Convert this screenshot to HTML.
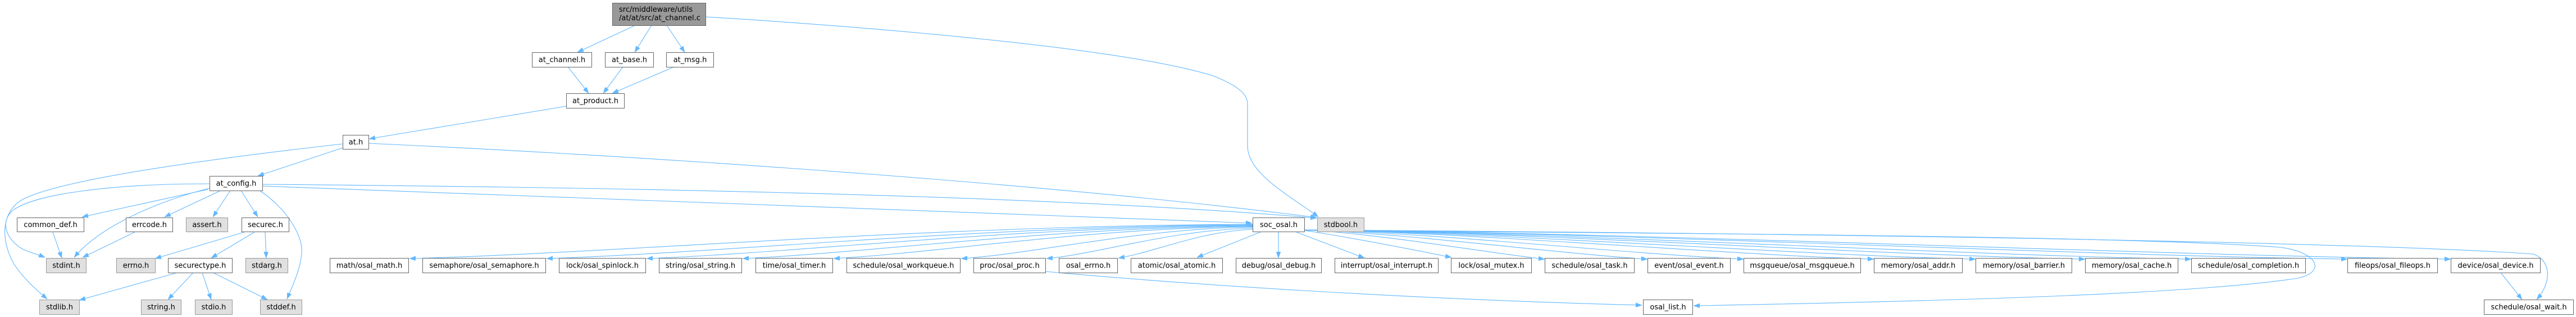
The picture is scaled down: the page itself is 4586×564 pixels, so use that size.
<!DOCTYPE html>
<html>
<head>
<meta charset="utf-8">
<style>
html,body{margin:0;padding:0;background:#fff;}
svg{display:block;}
text{font-family:"DejaVu Sans","Liberation Sans",sans-serif;font-size:13px;fill:#000;}
.n{fill:#fff;stroke:#666;stroke-width:1;}
.g{fill:#e0e0e0;stroke:#999;stroke-width:1;}
.e{fill:none;stroke:#63b8ff;stroke-width:1.1;marker-end:url(#a);}
</style>
</head>
<body>
<svg width="4586" height="564" viewBox="0 0 4586 564" xmlns="http://www.w3.org/2000/svg">
<defs>
<marker id="a" viewBox="0 0 11 8" refX="11" refY="4" markerWidth="11" markerHeight="8" markerUnits="userSpaceOnUse" orient="auto">
<path d="M0,0 L11,4 L0,8 z" fill="#63b8ff" stroke="#63b8ff" stroke-width="0.5"/>
</marker>
</defs>

<!-- edges -->
<g>
<path class="e" d="M1131,45 L1028,93"/>
<path class="e" d="M1160,45 L1130,93"/>
<path class="e" d="M1187,45 L1219,93"/>
<path class="e" d="M1256,30 C1550,48 2000,85 2160,135 C2210,155 2221,170 2221,185 L2221,260 C2221,310 2300,350 2347,386"/>
<path class="e" d="M1011,119 L1048,166"/>
<path class="e" d="M1109,119 L1074,166"/>
<path class="e" d="M1200,119 L1090,166"/>
<path class="e" d="M1008,189 L657,247"/>
<path class="e" d="M610,263 L459,313"/>
<path class="e" d="M610,256 C380,282 110,318 40,355 C0,378 2,430 25,470 C45,500 70,520 84,532"/>
<path class="e" d="M656,255 C1200,280 1900,330 2344,387"/>
<path class="e" d="M467,328 C1200,334 1900,350 2344,388"/>
<path class="e" d="M467,331 C1000,350 1800,382 2229,397"/>
<path class="e" d="M370,337 L146,386"/>
<path class="e" d="M393,339 L293,386"/>
<path class="e" d="M410,339 L379,386"/>
<path class="e" d="M429,339 L459,386"/>
<path class="e" d="M462,339 C510,370 540,420 537,450 C535,480 520,510 511,532"/>
<path class="e" d="M373,335 C290,355 180,400 132,458"/>
<path class="e" d="M373,327 C200,327 60,345 22,375 C0,395 10,425 40,443 C55,450 68,453 80,458"/>
<path class="e" d="M94,413 L110,459"/>
<path class="e" d="M240,413 L147,458"/>
<path class="e" d="M435,413 L276,460"/>
<path class="e" d="M453,413 L376,459"/>
<path class="e" d="M472,413 L474,459"/>
<path class="e" d="M316,485 L141,534"/>
<path class="e" d="M344,485 L299,533"/>
<path class="e" d="M360,485 L376,533"/>
<path class="e" d="M379,485 L476,533"/>

<path class="e" d="M2230,399 C1630,402 1104,450 729,460"/>
<path class="e" d="M2230,400 C1727,403 1287,450 973,460"/>
<path class="e" d="M2230,401 C1798,404 1421,450 1151,460"/>
<path class="e" d="M2230,402 C1867,405 1549,450 1322,460"/>
<path class="e" d="M2230,403 C1932,406 1670,450 1484,460"/>
<path class="e" d="M2230,404 C2022,407 1841,452 1711,460"/>
<path class="e" d="M2230,406 C2083,409 1955,452 1863,460"/>
<path class="e" d="M2230,408 C2134,412 2051,450 1991,459"/>
<path class="e" d="M2246,412 L2131,458"/>
<path class="e" d="M2276,413 L2276,459"/>
<path class="e" d="M2308,413 L2429,459"/>
<path class="e" d="M2322,410 C2420,425 2520,445 2584,458"/>
<path class="e" d="M2322,409 C2450,415 2650,450 2750,461"/>
<path class="e" d="M2322,409 C2505,415 2780,452 2933,461"/>
<path class="e" d="M2322,409 C2557,414 2908,453 3104,461"/>
<path class="e" d="M2322,409 C2626,414 3082,454 3336,461"/>
<path class="e" d="M2322,409 C2680,414 3218,455 3517,461"/>
<path class="e" d="M2322,409 C2739,414 3365,455 3712,461"/>
<path class="e" d="M2322,409 C2796,414 3506,455 3901,461"/>
<path class="e" d="M2322,409 C2879,414 3715,455 4179,461"/>
<path class="e" d="M2322,409 C2934,414 3853,455 4363,461"/>
<path class="e" d="M2322,409 C3200,415 4200,430 4510,452 C4540,462 4545,500 4516,533"/>
<path class="e" d="M2322,410 C3000,415 3800,420 4060,440 C4130,450 4140,485 4090,495 C3900,525 3400,537 3015,544"/>
<path class="e" d="M1861,483 C2100,505 2500,532 2923,543"/>
<path class="e" d="M4452,485 L4490,533"/>
</g>

<!-- nodes -->
<g>
<rect x="1090.5" y="5.5" width="166" height="40" fill="#999" stroke="#666"/>
<text x="1102" y="21">src/middleware/utils</text>
<text x="1102" y="36">/at/at/src/at_channel.c</text>

<rect class="n" x="947.5" y="93.5" width="106" height="26"/><text x="1000.5" y="110.5" text-anchor="middle">at_channel.h</text>
<rect class="n" x="1077.5" y="93.5" width="86" height="26"/><text x="1120.5" y="110.5" text-anchor="middle">at_base.h</text>
<rect class="n" x="1186.5" y="93.5" width="84" height="26"/><text x="1228.5" y="110.5" text-anchor="middle">at_msg.h</text>
<rect class="n" x="1008.5" y="166.5" width="103" height="26"/><text x="1060" y="183.5" text-anchor="middle">at_product.h</text>
<rect class="n" x="610.5" y="240.5" width="46" height="25"/><text x="633.5" y="257" text-anchor="middle">at.h</text>
<rect class="n" x="373.5" y="313.5" width="94" height="26"/><text x="420.5" y="330.5" text-anchor="middle">at_config.h</text>

<rect class="n" x="30.5" y="387.5" width="119" height="25"/><text x="90" y="404" text-anchor="middle">common_def.h</text>
<rect class="n" x="224.5" y="387.5" width="83" height="25"/><text x="266" y="404" text-anchor="middle">errcode.h</text>
<rect class="g" x="331.5" y="387.5" width="74" height="25"/><text x="368.5" y="404" text-anchor="middle">assert.h</text>
<rect class="n" x="430.5" y="387.5" width="84" height="25"/><text x="472.5" y="404" text-anchor="middle">securec.h</text>
<rect class="n" x="2230.5" y="387.5" width="92" height="25"/><text x="2276.5" y="404" text-anchor="middle">soc_osal.h</text>
<rect class="g" x="2345.5" y="387.5" width="83" height="25"/><text x="2387" y="404" text-anchor="middle">stdbool.h</text>

<rect class="g" x="82.5" y="459.5" width="71" height="26"/><text x="118" y="476.5" text-anchor="middle">stdint.h</text>
<rect class="g" x="207.5" y="459.5" width="69" height="26"/><text x="242" y="476.5" text-anchor="middle">errno.h</text>
<rect class="n" x="299.5" y="459.5" width="114" height="26"/><text x="356.5" y="476.5" text-anchor="middle">securectype.h</text>
<rect class="g" x="437.5" y="459.5" width="75" height="26"/><text x="475" y="476.5" text-anchor="middle">stdarg.h</text>
<rect class="n" x="587.5" y="459.5" width="140" height="26"/><text x="657.5" y="476.5" text-anchor="middle">math/osal_math.h</text>
<rect class="n" x="752.5" y="459.5" width="219" height="26"/><text x="862" y="476.5" text-anchor="middle">semaphore/osal_semaphore.h</text>
<rect class="n" x="995.5" y="459.5" width="154" height="26"/><text x="1072.5" y="476.5" text-anchor="middle">lock/osal_spinlock.h</text>
<rect class="n" x="1173.5" y="459.5" width="147" height="26"/><text x="1247" y="476.5" text-anchor="middle">string/osal_string.h</text>
<rect class="n" x="1345.5" y="459.5" width="137" height="26"/><text x="1414" y="476.5" text-anchor="middle">time/osal_timer.h</text>
<rect class="n" x="1507.5" y="459.5" width="202" height="26"/><text x="1608.5" y="476.5" text-anchor="middle">schedule/osal_workqueue.h</text>
<rect class="n" x="1733.5" y="459.5" width="128" height="26"/><text x="1797.5" y="476.5" text-anchor="middle">proc/osal_proc.h</text>
<rect class="n" x="1885.5" y="459.5" width="104" height="26"/><text x="1937.5" y="476.5" text-anchor="middle">osal_errno.h</text>
<rect class="n" x="2013.5" y="459.5" width="163" height="26"/><text x="2095" y="476.5" text-anchor="middle">atomic/osal_atomic.h</text>
<rect class="n" x="2200.5" y="459.5" width="152" height="26"/><text x="2276.5" y="476.5" text-anchor="middle">debug/osal_debug.h</text>
<rect class="n" x="2376.5" y="459.5" width="184" height="26"/><text x="2468.5" y="476.5" text-anchor="middle">interrupt/osal_interrupt.h</text>
<rect class="n" x="2583.5" y="459.5" width="143" height="26"/><text x="2655" y="476.5" text-anchor="middle">lock/osal_mutex.h</text>
<rect class="n" x="2750.5" y="459.5" width="159" height="26"/><text x="2830" y="476.5" text-anchor="middle">schedule/osal_task.h</text>
<rect class="n" x="2933.5" y="459.5" width="147" height="26"/><text x="3007" y="476.5" text-anchor="middle">event/osal_event.h</text>
<rect class="n" x="3104.5" y="459.5" width="208" height="26"/><text x="3208.5" y="476.5" text-anchor="middle">msgqueue/osal_msgqueue.h</text>
<rect class="n" x="3336.5" y="459.5" width="157" height="26"/><text x="3415" y="476.5" text-anchor="middle">memory/osal_addr.h</text>
<rect class="n" x="3517.5" y="459.5" width="171" height="26"/><text x="3603" y="476.5" text-anchor="middle">memory/osal_barrier.h</text>
<rect class="n" x="3712.5" y="459.5" width="165" height="26"/><text x="3795" y="476.5" text-anchor="middle">memory/osal_cache.h</text>
<rect class="n" x="3901.5" y="459.5" width="203" height="26"/><text x="4003" y="476.5" text-anchor="middle">schedule/osal_completion.h</text>
<rect class="n" x="4179.5" y="459.5" width="160" height="26"/><text x="4259.5" y="476.5" text-anchor="middle">fileops/osal_fileops.h</text>
<rect class="n" x="4363.5" y="459.5" width="159" height="26"/><text x="4443" y="476.5" text-anchor="middle">device/osal_device.h</text>

<rect class="g" x="70.5" y="533.5" width="71" height="26"/><text x="106" y="550.5" text-anchor="middle">stdlib.h</text>
<rect class="g" x="251.5" y="533.5" width="71" height="26"/><text x="287" y="550.5" text-anchor="middle">string.h</text>
<rect class="g" x="347.5" y="533.5" width="66" height="26"/><text x="380.5" y="550.5" text-anchor="middle">stdio.h</text>
<rect class="g" x="463.5" y="533.5" width="74" height="26"/><text x="500.5" y="550.5" text-anchor="middle">stddef.h</text>
<rect class="n" x="2925.5" y="533.5" width="88" height="26"/><text x="2969.5" y="550.5" text-anchor="middle">osal_list.h</text>
<rect class="n" x="4422.5" y="533.5" width="159" height="26"/><text x="4502" y="550.5" text-anchor="middle">schedule/osal_wait.h</text>
</g>
</svg>
</body>
</html>
